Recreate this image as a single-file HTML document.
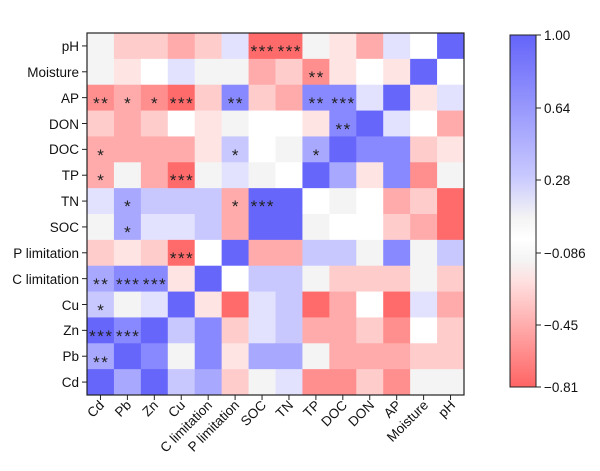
<!DOCTYPE html>
<html><head><meta charset="utf-8"><style>body{margin:0;background:#fff}svg{display:block;font-family:"Liberation Sans",sans-serif}</style></head>
<body>
<svg id="s" width="600" height="471" xmlns="http://www.w3.org/2000/svg">
<defs><linearGradient id="cb" x1="0" y1="0" x2="0" y2="1">
<stop offset="0" stop-color="#6464fa"/><stop offset="0.4" stop-color="#c8c8ff"/><stop offset="0.52" stop-color="#f4f4f4"/><stop offset="0.58" stop-color="#ffffff"/><stop offset="0.64" stop-color="#f4f4f4"/><stop offset="0.7" stop-color="#ffe0e0"/><stop offset="1" stop-color="#ff6464"/></linearGradient></defs>
<g id="cells"></g>
<rect x="87" y="33" width="377" height="362" fill="none" stroke="#222" stroke-width="1.2"/>
<g font-size="13.5" text-anchor="end" fill="#111">
<text x="79" y="51">pH</text><text x="79" y="77">Moisture</text><text x="79" y="103">AP</text><text x="79" y="129">DON</text><text x="79" y="154">DOC</text><text x="79" y="180">TP</text><text x="79" y="206">TN</text><text x="79" y="232">SOC</text><text x="79" y="258">P limitation</text><text x="79" y="284">C limitation</text><text x="79" y="310">Cu</text><text x="79" y="335">Zn</text><text x="79" y="361">Pb</text><text x="79" y="387">Cd</text>
</g>
<g font-size="13.5" text-anchor="end" fill="#111">
<text transform="translate(105,406) rotate(-45)">Cd</text>
<text transform="translate(132,406) rotate(-45)">Pb</text>
<text transform="translate(159,406) rotate(-45)">Zn</text>
<text transform="translate(186,406) rotate(-45)">Cu</text>
<text transform="translate(213,406) rotate(-45)">C limitation</text>
<text transform="translate(240,406) rotate(-45)">P limitation</text>
<text transform="translate(267,406) rotate(-45)">SOC</text>
<text transform="translate(294,406) rotate(-45)">TN</text>
<text transform="translate(321,406) rotate(-45)">TP</text>
<text transform="translate(348,406) rotate(-45)">DOC</text>
<text transform="translate(375,406) rotate(-45)">DON</text>
<text transform="translate(402,406) rotate(-45)">AP</text>
<text transform="translate(429,406) rotate(-45)">Moisture</text>
<text transform="translate(456,406) rotate(-45)">pH</text>
</g>
<g font-size="17" text-anchor="middle" fill="#222" letter-spacing="1.5" transform="translate(0.8,4)">
<text x="262" y="53">***</text><text x="289" y="53">***</text>
<text x="316" y="79">**</text>
<text x="100.5" y="105">**</text><text x="127.4" y="105">*</text><text x="154.3" y="105">*</text><text x="181.3" y="105">***</text><text x="235.1" y="105">**</text><text x="316" y="105">**</text><text x="342.8" y="105">***</text>
<text x="342.8" y="131">**</text>
<text x="100.5" y="157">*</text><text x="235.1" y="157">*</text><text x="316" y="157">*</text>
<text x="100.5" y="182">*</text><text x="181.3" y="182">***</text>
<text x="127.4" y="208">*</text><text x="235.1" y="208">*</text><text x="262" y="208">***</text>
<text x="127.4" y="234">*</text>
<text x="181.3" y="260">***</text>
<text x="100.5" y="286">**</text><text x="127.4" y="286">***</text><text x="154.3" y="286">***</text>
<text x="100.5" y="312">*</text>
<text x="100.5" y="338">***</text><text x="127.4" y="338">***</text>
<text x="100.5" y="364">**</text>
</g>
<rect x="510" y="35" width="26" height="352" fill="url(#cb)" stroke="#222" stroke-width="1"/>
<g stroke="#222"><line x1="536" y1="35" x2="541" y2="35"/><line x1="536" y1="108" x2="541" y2="108"/><line x1="536" y1="180" x2="541" y2="180"/><line x1="536" y1="253" x2="541" y2="253"/><line x1="536" y1="325" x2="541" y2="325"/><line x1="536" y1="387" x2="541" y2="387"/></g>
<g font-size="13.5" fill="#111">
<text x="544" y="40">1.00</text><text x="544" y="113">0.64</text><text x="544" y="185">0.28</text><text x="544" y="258">−0.086</text><text x="544" y="330">−0.45</text><text x="544" y="392">−0.81</text>
</g>
</svg>
<script>
var C={R4:"#ff6b6b",R3:"#ff8f8f",R2:"#ffabab",R1:"#ffcccc",R0:"#ffe4e4",W:"#ffffff",G:"#f4f4f4",B0:"#e2e2ff",B1:"#c8c8ff",B2:"#a8a8ff",B3:"#8888ff",B4:"#6666fa"};
var rows=[
"G R1 R1 R2 R1 B0 R4 R4 G R0 R2 B0 W B4",
"G R0 W B0 G G R2 R1 R3 R0 W R0 B4 W",
"R3 R2 R3 R4 R1 B3 R1 R2 B3 B3 B0 B4 R0 B0",
"R1 R2 R1 W R0 G W W R0 B3 B4 B0 W R2",
"R2 R2 R2 R2 R0 B1 W G B2 B4 B3 B3 R1 R0",
"R2 G R2 R4 G B0 G W B4 B2 R0 B3 R3 G",
"B0 B2 B1 B1 B1 R2 B4 B4 W G W R2 R1 R4",
"G B2 B0 B0 B1 R2 B4 B4 G W W R1 R2 R4",
"R1 R0 R1 R4 W B4 R2 R2 B1 B1 G B3 G B1",
"B2 B3 B3 R0 B4 W B1 B1 G R1 R1 R1 G R1",
"B1 G B0 B4 R0 R4 B0 B1 R4 R2 W R4 B0 R2",
"B4 B3 B4 B1 B3 R1 B0 B1 R2 R2 R1 R3 W R1",
"B2 B4 B3 G B3 R0 B2 B2 G R2 R2 R2 R1 R1",
"B4 B2 B4 B1 B2 R1 G B0 R3 R3 R1 R3 G G"];
var g=document.getElementById("cells"),h="";
var cw=377/14,ch=362/14;
rows.forEach(function(r,j){r.split(" ").forEach(function(k,i){
h+='<rect x="'+(87+i*cw)+'" y="'+(33+j*ch)+'" width="'+(cw+0.5)+'" height="'+(ch+0.5)+'" fill="'+C[k]+'"/>';});});
for(var j=0;j<14;j++){var y=33+(j+0.5)*ch;h+='<line x1="82" x2="87" y1="'+y+'" y2="'+y+'" stroke="#222"/>';}
for(var i=0;i<14;i++){var x=87+(i+0.5)*cw;h+='<line y1="395" y2="400" x1="'+x+'" x2="'+x+'" stroke="#222"/>';}
g.innerHTML=h;
</script>
</body></html>
